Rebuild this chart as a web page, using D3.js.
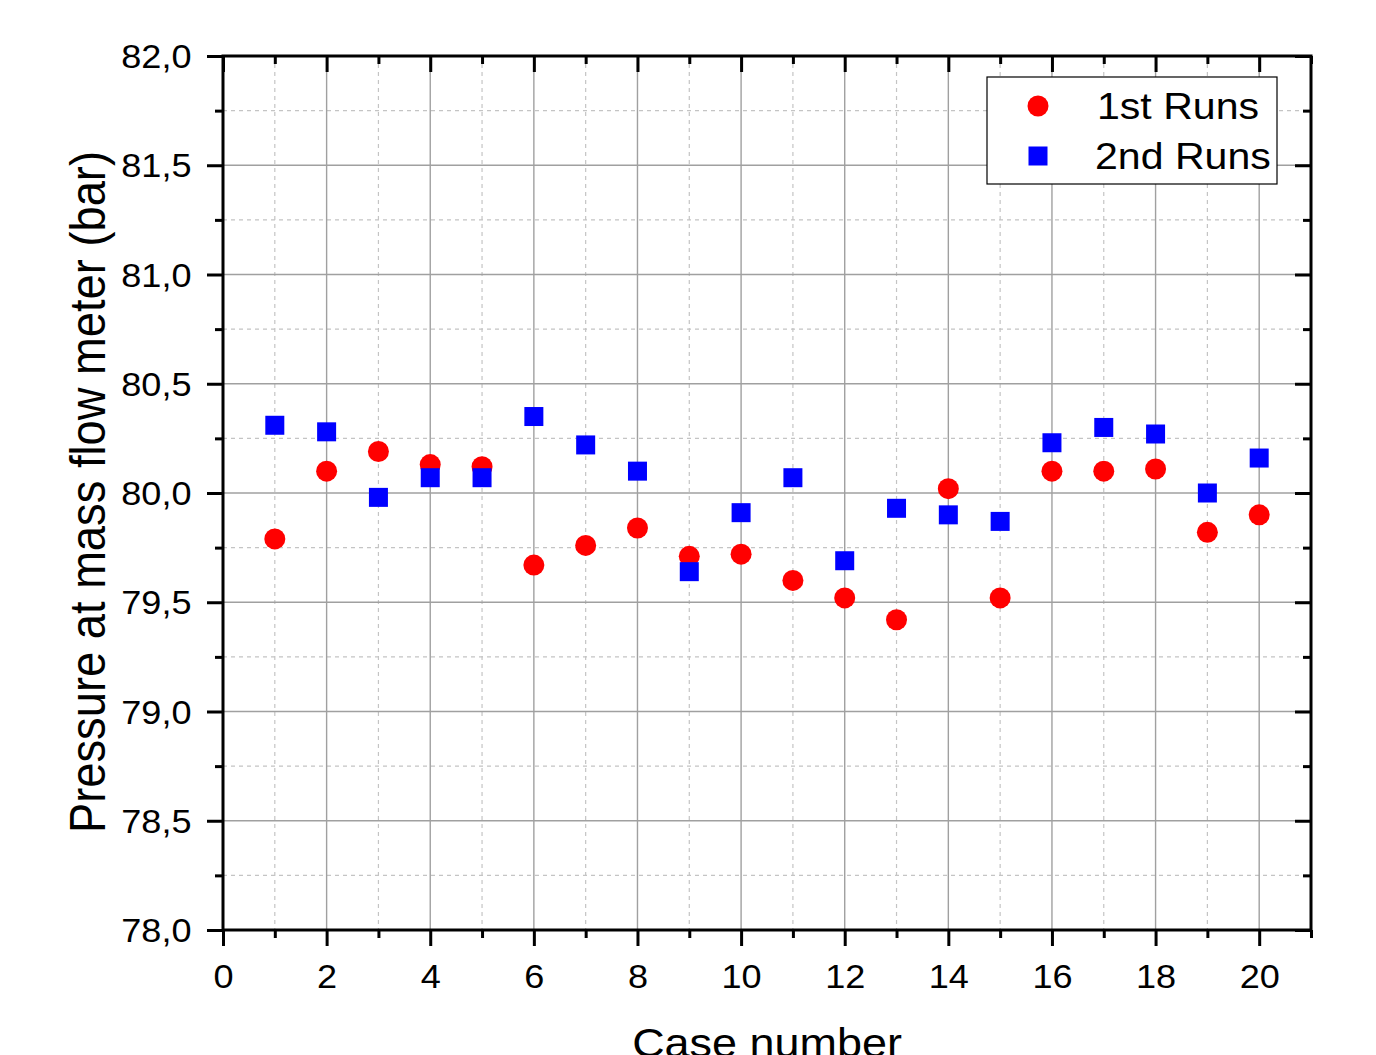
<!DOCTYPE html>
<html>
<head>
<meta charset="utf-8">
<script src="https://cdn.jsdelivr.net/npm/d3@7"></script>
<style>
  html, body { margin: 0; padding: 0; background: #fff; }
  svg { display: block; }
  text { font-family: "Liberation Sans", Arial, sans-serif; fill: #000; }
</style>
</head>
<body>
<svg id="chart" width="1376" height="1055"></svg>
<script>
// ---- data ----
const caseNumbers = [1,2,3,4,5,6,7,8,9,10,11,12,13,14,15,16,17,18,19,20];
const firstRuns  = [79.79,80.10,80.19,80.13,80.12,79.67,79.76,79.84,79.71,79.72,79.60,79.52,79.42,80.02,79.52,80.10,80.10,80.11,79.82,79.90];
const secondRuns = [80.31,80.28,79.98,80.07,80.07,80.35,80.22,80.10,79.64,79.91,80.07,79.69,79.93,79.90,79.87,80.23,80.30,80.27,80.00,80.16];
const xMajorTicks = [0,2,4,6,8,10,12,14,16,18,20];
const xMinorTicks = [1,3,5,7,9,11,13,15,17,19,21];
const yMajorTicks = [78.0,78.5,79.0,79.5,80.0,80.5,81.0,81.5,82.0];
const yMinorTicks = [78.25,78.75,79.25,79.75,80.25,80.75,81.25,81.75];
const seriesNames = ["1st Runs","2nd Runs"];
const seriesColors = ["#ff0000","#0000ff"];

// ---- layout ----
const mLeft = 223, mTop = 56, W = 1088, H = 874;
const SX = 1.11;
const svg = d3.select("#chart");
const g = svg.append("g").attr("transform", `translate(${mLeft},${mTop})`);
const x = d3.scaleLinear().domain([0,21]).range([0,W]);
const y = d3.scaleLinear().domain([78,82]).range([H,0]);
const fmt = v => d3.format(".1f")(v).replace(".", ",");

// grid
const grid = g.append("g");
grid.selectAll(".gxm").data(xMinorTicks.filter(d => d < 21)).enter().append("line")
  .attr("x1", d => x(d)).attr("x2", d => x(d)).attr("y1", 0).attr("y2", H)
  .attr("stroke", "#c4c4c4").attr("stroke-width", 1.2).attr("stroke-dasharray", "4,4");
grid.selectAll(".gym").data(yMinorTicks).enter().append("line")
  .attr("y1", d => y(d)).attr("y2", d => y(d)).attr("x1", 0).attr("x2", W)
  .attr("stroke", "#c4c4c4").attr("stroke-width", 1.2).attr("stroke-dasharray", "4,4");
grid.selectAll(".gxM").data(xMajorTicks.filter(d => d > 0)).enter().append("line")
  .attr("x1", d => x(d)).attr("x2", d => x(d)).attr("y1", 0).attr("y2", H)
  .attr("stroke", "#a0a0a0").attr("stroke-width", 1.4);
grid.selectAll(".gyM").data(yMajorTicks.filter(d => d > 78 && d < 82)).enter().append("line")
  .attr("y1", d => y(d)).attr("y2", d => y(d)).attr("x1", 0).attr("x2", W)
  .attr("stroke", "#a0a0a0").attr("stroke-width", 1.4);

// axes
function styleAxis(sel) {
  sel.select(".domain").remove();
  sel.selectAll(".tick line").attr("stroke", "#000").attr("stroke-width", 3);
}
g.append("g").attr("transform", `translate(0,${H})`)
  .call(d3.axisBottom(x).tickValues(xMajorTicks).tickSize(16).tickFormat(d3.format("d")))
  .call(styleAxis)
  .call(s => s.selectAll("text").attr("y", 58).attr("dy", 0).attr("font-size", 32.5)
    .attr("font-family", "Liberation Sans, Arial, sans-serif").attr("transform", `scale(${SX},1)`));
g.append("g").attr("transform", `translate(0,${H})`)
  .call(d3.axisBottom(x).tickValues(xMinorTicks).tickSize(8).tickFormat(""))
  .call(styleAxis);
g.append("g")
  .call(d3.axisTop(x).tickValues(xMajorTicks).tickSize(-16).tickFormat(""))
  .call(styleAxis);
g.append("g")
  .call(d3.axisTop(x).tickValues(xMinorTicks).tickSize(-8).tickFormat(""))
  .call(styleAxis);
g.append("g")
  .call(d3.axisLeft(y).tickValues(yMajorTicks).tickSize(16).tickFormat(fmt))
  .call(styleAxis)
  .call(s => s.selectAll("text").attr("x", -31.5 / SX).attr("dy", "0.36em").attr("font-size", 32.5)
    .attr("font-family", "Liberation Sans, Arial, sans-serif").attr("transform", `scale(${SX},1)`));
g.append("g")
  .call(d3.axisLeft(y).tickValues(yMinorTicks).tickSize(8).tickFormat(""))
  .call(styleAxis);
g.append("g").attr("transform", `translate(${W},0)`)
  .call(d3.axisRight(y).tickValues(yMajorTicks).tickSize(-16).tickFormat(""))
  .call(styleAxis);
g.append("g").attr("transform", `translate(${W},0)`)
  .call(d3.axisRight(y).tickValues(yMinorTicks).tickSize(-8).tickFormat(""))
  .call(styleAxis);

// frame
g.append("rect").attr("x", 0).attr("y", 0).attr("width", W).attr("height", H)
  .attr("fill", "none").attr("stroke", "#000").attr("stroke-width", 3);

// data points
const pts1 = caseNumbers.map((c, i) => ({c, v: firstRuns[i]}));
const pts2 = caseNumbers.map((c, i) => ({c, v: secondRuns[i]}));
g.append("g").selectAll("circle").data(pts1).enter().append("circle")
  .attr("cx", d => x(d.c)).attr("cy", d => y(d.v)).attr("r", 10.5)
  .attr("fill", seriesColors[0]);
const sq = 19;
g.append("g").selectAll("rect").data(pts2).enter().append("rect")
  .attr("x", d => x(d.c) - sq/2).attr("y", d => y(d.v) - sq/2)
  .attr("width", sq).attr("height", sq).attr("fill", seriesColors[1]);

// legend
const lg = svg.append("g");
lg.append("rect").attr("x", 987).attr("y", 77).attr("width", 290).attr("height", 107)
  .attr("fill", "#fff").attr("stroke", "#000").attr("stroke-width", 1.2);
lg.append("circle").attr("cx", 1038).attr("cy", 106).attr("r", 10.5).attr("fill", seriesColors[0]);
lg.append("rect").attr("x", 1038 - sq/2).attr("y", 156 - sq/2).attr("width", sq).attr("height", sq).attr("fill", seriesColors[1]);
[[seriesNames[0], 1097, 119], [seriesNames[1], 1095, 169]].forEach(([t, tx, ty]) => {
  lg.append("text").attr("transform", `translate(${tx},${ty}) scale(${SX},1)`)
    .attr("font-size", 37).text(t);
});

// axis titles
svg.append("text").attr("transform", `translate(105,492) rotate(-90) scale(1,${SX})`)
  .attr("text-anchor", "middle").attr("font-size", 45.3).text("Pressure at mass flow meter (bar)");
svg.append("text").attr("transform", `translate(767,1057) scale(${SX},1)`)
  .attr("text-anchor", "middle").attr("font-size", 40.5).text("Case number");
</script>
</body>
</html>
